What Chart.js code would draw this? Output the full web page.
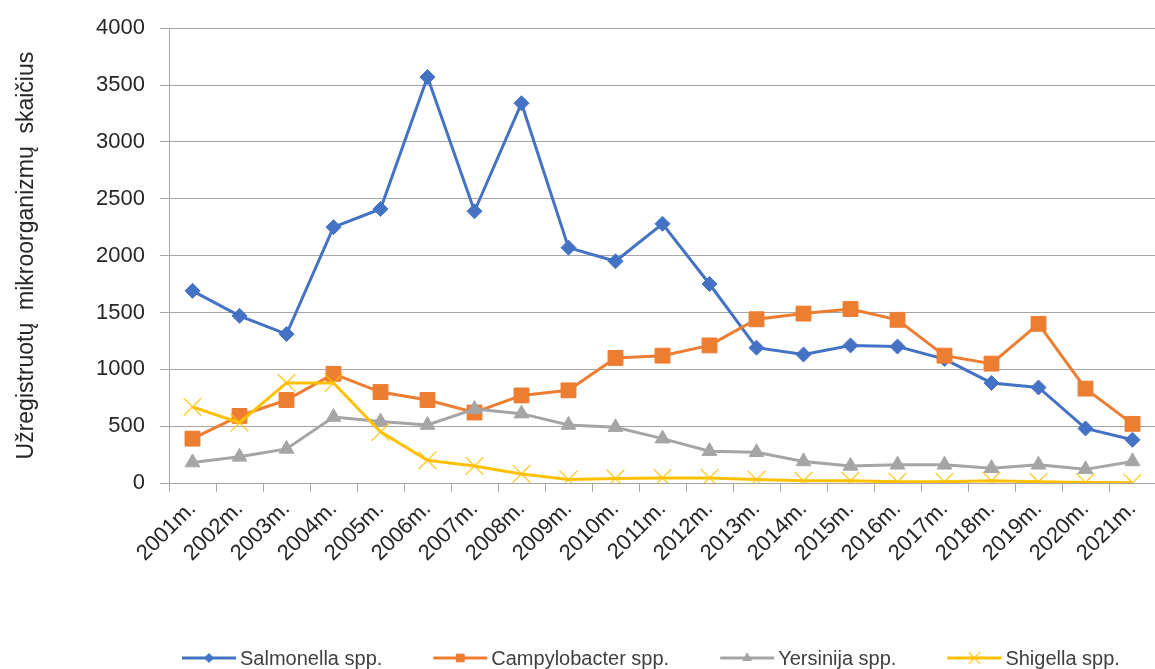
<!DOCTYPE html>
<html>
<head>
<meta charset="utf-8">
<script src="https://cdn.jsdelivr.net/npm/chart.js@4.4.0/dist/chart.umd.min.js"></script>
<style>
  html, body { margin: 0; padding: 0; background: #fff; overflow: hidden; }
  #wrap { width: 1155px; height: 669px; overflow: hidden; }
</style>
</head>
<body>
<div id="wrap"><canvas id="chart" width="1170" height="669"></canvas></div>
<script>
// years on the x axis
const years = ['2001m.', '2002m.', '2003m.', '2004m.', '2005m.', '2006m.', '2007m.',
               '2008m.', '2009m.', '2010m.', '2011m.', '2012m.', '2013m.', '2014m.',
               '2015m.', '2016m.', '2017m.', '2018m.', '2019m.', '2020m.', '2021m.'];

// values
const salmonella    = [1690, 1470, 1310, 2250, 2410, 3570, 2390, 3340, 2070, 1950, 2280,
                       1750, 1190, 1130, 1210, 1200, 1090, 880, 840, 480, 380];
const campylobacter = [390, 590, 730, 960, 800, 730, 620, 770, 815, 1100, 1120,
                       1210, 1440, 1490, 1530, 1435, 1120, 1050, 1400, 830, 520];
const yersinija     = [180, 230, 300, 580, 540, 510, 650, 610, 510, 490, 390,
                       280, 270, 190, 150, 160, 160, 130, 160, 120, 190];
const shigella      = [670, 530, 880, 880, 450, 200, 150, 80, 30, 40, 45,
                       45, 30, 20, 20, 10, 10, 20, 10, 5, 2];

const yTitle = 'Užregistruotų  mikroorganizmų  skaičius';

const FONT = '"Liberation Sans", Arial, sans-serif';
const gridColor = '#a6a6a6';

// legend with a line sample and the marker, like the Excel one
const lineLegend = {
    id: 'lineLegend',
    afterDraw(chart) {
        const ctx = chart.ctx;
        const y = 658;
        let x = 182;
        ctx.save();
        ctx.font = '20px ' + FONT;
        ctx.textBaseline = 'middle';
        chart.data.datasets.forEach(ds => {
            ctx.strokeStyle = ds.borderColor;
            ctx.lineWidth = 3;
            ctx.beginPath();
            ctx.moveTo(x, y);
            ctx.lineTo(x + 54, y);
            ctx.stroke();

            ctx.fillStyle = ds.pointBackgroundColor;
            ctx.strokeStyle = ds.pointBorderColor;
            ctx.lineWidth = ds.pointBorderWidth;
            Chart.helpers.drawPoint(ctx, {
                pointStyle: ds.pointStyle,
                radius: ds.legendRadius,
                borderWidth: ds.pointBorderWidth,
                rotation: 0
            }, x + 27, y);

            ctx.fillStyle = '#404040';
            ctx.fillText(ds.label, x + 58, y + 1);
            x += 58 + ctx.measureText(ds.label).width + 51;
        });
        ctx.restore();
    }
};

new Chart(document.getElementById('chart'), {
    type: 'line',
    data: {
        labels: years,
        datasets: [
            {
                label: 'Salmonella spp.',
                data: salmonella,
                borderColor: '#4472C4',
                pointBackgroundColor: '#4472C4',
                pointBorderColor: '#4472C4',
                pointStyle: 'rectRot',
                pointRadius: 7.5,
                legendRadius: 4.5,
                pointBorderWidth: 1,
                order: 4
            },
            {
                label: 'Campylobacter spp.',
                data: campylobacter,
                borderColor: '#ED7D31',
                pointBackgroundColor: '#ED7D31',
                pointBorderColor: '#ED7D31',
                pointStyle: 'rect',
                pointRadius: 10.5,
                legendRadius: 5.5,
                pointBorderWidth: 1,
                order: 3
            },
            {
                label: 'Yersinija spp.',
                data: yersinija,
                borderColor: '#A5A5A5',
                pointBackgroundColor: '#A5A5A5',
                pointBorderColor: '#A5A5A5',
                pointStyle: 'triangle',
                pointRadius: 8.5,
                legendRadius: 5,
                pointBorderWidth: 1,
                order: 2
            },
            {
                label: 'Shigella spp.',
                data: shigella,
                borderColor: '#FFC000',
                pointBackgroundColor: '#FFC000',
                pointBorderColor: 'rgba(255, 192, 0, 0.75)',
                pointStyle: 'crossRot',
                pointRadius: 12.5,
                legendRadius: 8,
                pointBorderWidth: 1.5,
                order: 1
            }
        ]
    },
    options: {
        responsive: false,
        animation: false,
        events: [],
        elements: {
            line: { borderWidth: 3, tension: 0 }
        },
        layout: {
            padding: { left: 9, top: 21, right: 4, bottom: 0 }
        },
        plugins: {
            legend: { display: false },
            tooltip: { enabled: false }
        },
        scales: {
            x: {
                offset: true,
                grid: {
                    offset: true,
                    drawOnChartArea: false,
                    drawTicks: true,
                    tickLength: 9,
                    color: gridColor
                },
                border: { color: gridColor },
                ticks: {
                    minRotation: 45,
                    maxRotation: 45,
                    padding: 4,
                    color: '#262626',
                    font: { family: FONT, size: 22 }
                },
                afterFit(scale) { scale.height = 186; }
            },
            y: {
                min: 0,
                max: 4000,
                ticks: {
                    stepSize: 500,
                    padding: 15,
                    color: '#262626',
                    font: { family: FONT, size: 22 },
                    callback: value => String(value)  // no thousands separator
                },
                grid: {
                    color: gridColor,
                    tickLength: 9
                },
                border: { color: gridColor },
                title: {
                    display: true,
                    text: yTitle,
                    color: '#262626',
                    font: { family: FONT, size: 23 }
                },
                afterFit(scale) { scale.width = 160; }
            }
        }
    },
    plugins: [lineLegend]
});
</script>
</body>
</html>
